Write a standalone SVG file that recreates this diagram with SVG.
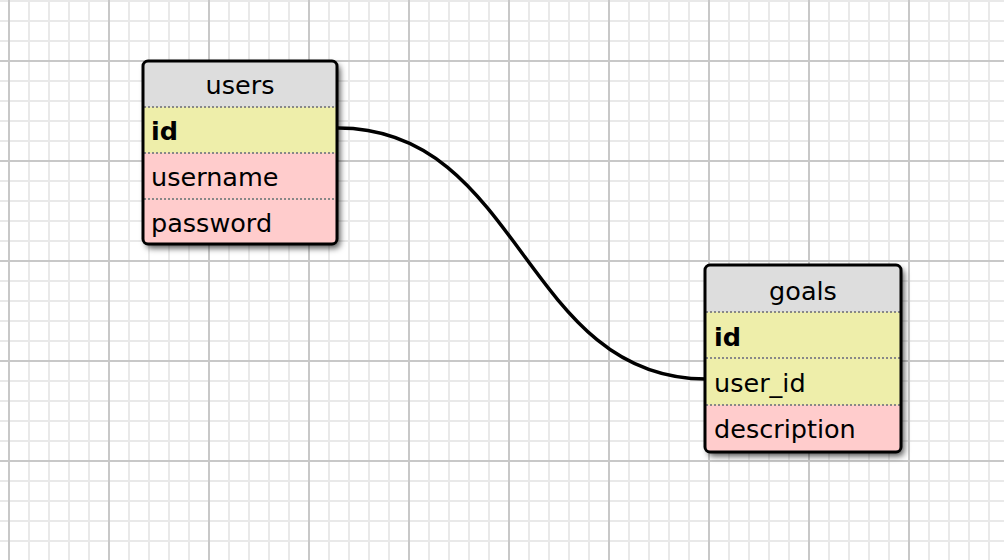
<svg xmlns="http://www.w3.org/2000/svg" width="1004" height="560" viewBox="0 0 1004 560">
<defs>
<pattern id="minor" x="-1" y="-9" width="20" height="20" patternUnits="userSpaceOnUse">
<path d="M10 0V20M0 10H20" fill="none" stroke="#e9e9e9" stroke-width="2"/>
</pattern>
<pattern id="major" x="-41" y="11" width="100" height="100" patternUnits="userSpaceOnUse">
<path d="M50 0V100M0 50H100" fill="none" stroke="#c8c8c8" stroke-width="2"/>
</pattern>
<filter id="shadow" x="-10%" y="-10%" width="130%" height="130%">
<feDropShadow dx="3" dy="4" stdDeviation="3" flood-color="#000" flood-opacity="0.7"/>
</filter>
</defs>
<style>
text{font-family:"DejaVu Sans","Verdana",sans-serif;font-size:25.5px;fill:#000}
.hd{text-anchor:middle}
.pk{font-weight:bold}
.sep{stroke:#888;stroke-width:2;stroke-dasharray:2 2}
.frame{fill:none;stroke:#000;stroke-width:3}
.conn{fill:none;stroke:#000;stroke-width:3.5}
</style>
<rect width="1004" height="560" fill="#fff"/>
<rect width="1004" height="560" fill="url(#minor)"/>
<rect width="1004" height="560" fill="url(#major)"/>

<g id="connectors">
<path class="conn" d="M338 128 C522 128 523 379 706 379"/>
</g>

<g id="users">
<rect x="143" y="61" width="194" height="183" rx="5" fill="#ddd" filter="url(#shadow)"/>
<rect x="144" y="107" width="192" height="46" fill="#eeeeaa"/>
<path d="M144 153H336V239Q336 243 332 243H148Q144 243 144 239Z" fill="#ffcccc"/>
<line class="sep" x1="144" y1="107" x2="336" y2="107"/>
<line class="sep" x1="144" y1="153" x2="336" y2="153"/>
<line class="sep" x1="144" y1="199" x2="336" y2="199"/>
<rect class="frame" x="143" y="61" width="194" height="183" rx="5"/>
<text class="hd" x="240" y="94">users</text>
<text class="pk" x="151" y="140">id</text>
<text x="151" y="186">username</text>
<text x="151" y="232">password</text>
</g>

<g id="goals">
<rect x="705" y="265" width="196" height="187" rx="5" fill="#ddd" filter="url(#shadow)"/>
<rect x="706" y="312" width="194" height="93" fill="#eeeeaa"/>
<path d="M706 405H900V447Q900 451 896 451H710Q706 451 706 447Z" fill="#ffcccc"/>
<line class="sep" x1="706" y1="312" x2="900" y2="312"/>
<line class="sep" x1="706" y1="358" x2="900" y2="358"/>
<line class="sep" x1="706" y1="405" x2="900" y2="405"/>
<rect class="frame" x="705" y="265" width="196" height="187" rx="5"/>
<text class="hd" x="803" y="300">goals</text>
<text class="pk" x="714" y="346">id</text>
<text x="714" y="392">user_id</text>
<text x="714" y="438">description</text>
</g>
</svg>
